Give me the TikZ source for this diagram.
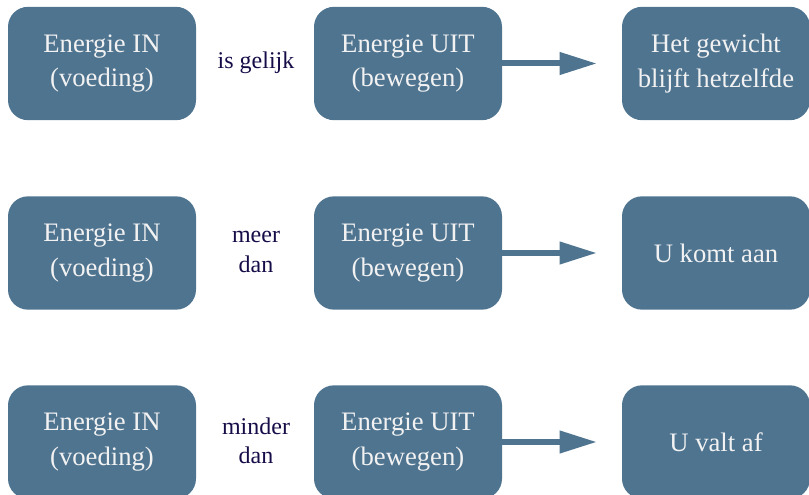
\documentclass[tikz,border=0pt]{standalone}
\usepackage{fontspec}
\setmainfont{Liberation Serif}
\usetikzlibrary{arrows.meta}
\definecolor{boxblue}{RGB}{79,116,144}
\definecolor{boxtext}{RGB}{242,242,242}
\definecolor{labeltext}{RGB}{22,12,72}
\tikzset{
  ebox/.style={fill=boxblue, draw=none, rounded corners=15pt, minimum width=141pt, minimum height=85pt,
    text=boxtext, align=center, inner sep=0pt, font=\fontsize{20}{26}\selectfont},
  elabel/.style={text=labeltext, align=center, font=\fontsize{18}{22}\selectfont},
  earrow/.style={draw=boxblue, line width=4.5pt, -{Triangle[length=28pt,width=16pt]}}
}
\begin{document}
\begin{tikzpicture}[x=0.75pt,y=-0.75pt]
\useasboundingbox (0,0) rectangle (809,495);
% row 1
\node[ebox] (in1) at (102,63.5) {Energie IN\\(voeding)};
\node[elabel] (l1) at (256,63) {is gelijk};
\node[ebox] (out1) at (408,63.5) {Energie UIT\\(bewegen)};
\node[ebox] (r1) at (716,63.5) {Het gewicht\\blijft hetzelfde};
\coordinate (a1) at (597,63.5);
\draw[earrow] (out1.east) -- (a1);
% row 2
\node[ebox] (in2) at (102,253) {Energie IN\\(voeding)};
\node[elabel] (l2) at (256,252) {meer\\dan};
\node[ebox] (out2) at (408,253) {Energie UIT\\(bewegen)};
\node[ebox] (r2) at (716,253) {U komt aan};
\coordinate (a2) at (597,253);
\draw[earrow] (out2.east) -- (a2);
% row 3
\node[ebox] (in3) at (102,442) {Energie IN\\(voeding)};
\node[elabel] (l3) at (256,441) {minder\\dan};
\node[ebox] (out3) at (408,442) {Energie UIT\\(bewegen)};
\node[ebox] (r3) at (716,442) {U valt af};
\coordinate (a3) at (597,442);
\draw[earrow] (out3.east) -- (a3);
\end{tikzpicture}
\end{document}
